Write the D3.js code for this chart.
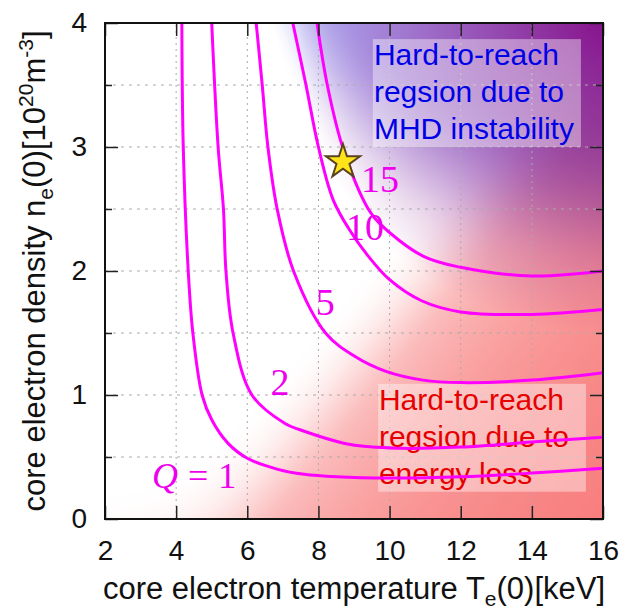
<!DOCTYPE html>
<html>
<head>
<meta charset="utf-8">
<script src="https://cdn.jsdelivr.net/npm/d3@7"></script>
<style>
  body { margin: 0; background: #fff; }
  svg { display: block; }
</style>
</head>
<body>
<svg id="chart"></svg>
<script>
// Q contours: [Te(0) keV, ne(0) 1e20 m^-3]
const q1 = [[4.16,4],[4.2,3],[4.34,2],[4.47,1.5],[4.73,1.0],[5.0,0.8],[5.46,0.61],[6.0,0.49],[6.86,0.40],[7.6,0.36],[8.5,0.34],[10,0.33],[12,0.34],[14,0.37],[16,0.41]];
const q2 = [[5.0,4],[5.18,3],[5.33,2.5],[5.4,2],[5.6,1.5],[6.13,1.0],[7.06,0.77],[7.48,0.72],[8.9,0.6],[10.3,0.57],[12,0.58],[14,0.62],[16,0.66]];
const q5 = [[6.25,4],[6.42,3.5],[6.58,3],[6.84,2.5],[7.3,2.0],[8.2,1.5],[9.03,1.31],[9.9,1.19],[10.94,1.12],[12,1.10],[14,1.12],[16,1.18]];
const q10 = [[7.28,4],[7.65,3.5],[8.0,3.0],[8.42,2.57],[8.9,2.32],[9.4,2.12],[10,1.93],[10.9,1.76],[12,1.67],[14,1.65],[16,1.69]];
const q15 = [[7.96,4],[8.25,3.5],[8.68,3.0],[9.4,2.5],[9.73,2.38],[10.94,2.12],[12,2.03],[14,1.96],[16,2.0]];

const qValues = [1, 2, 5, 10, 15];
const qCurves = [q1, q2, q5, q10, q15];
// where each contour label sits (T, n of the baseline)
const qLabelPos = [[3.32,0.25],[6.92,1.0],[8.19,1.645],[9.31,2.25],[9.73,2.637]];

const starPoint = [8.69, 2.88];

const xTicks = [2, 4, 6, 8, 10, 12, 14, 16];
const yTicks = [0, 1, 2, 3, 4];
const yMinor = [0.5, 1.5, 2.5, 3.5];
const xGrid = [4, 6, 8, 10, 12, 14];
const yGrid = [0.5, 1, 1.5, 2, 2.5, 3, 3.5];

const mhdText = ["Hard-to-reach", "regsion due to", "MHD instability"];
const lossText = ["Hard-to-reach", "regsion due to", "energy loss"];

const width = 625;
const height = 609;
const margin = ({ top: 23, right: 22, bottom: 90, left: 105 });

const x = d3.scaleLinear()
  .domain([2, 16])
  .range([margin.left, width - margin.right]);

const y = d3.scaleLinear()
  .domain([0, 4])
  .range([height - margin.bottom, margin.top]);

const svg = d3.select("#chart")
  .attr("width", width)
  .attr("height", height)
  .attr("viewBox", [0, 0, width, height]);

const pw = x(16) - x(2), ph = y(0) - y(4);

svg.append("defs").append("clipPath").attr("id", "plot")
  .append("rect")
  .attr("x", x(2)).attr("y", y(4))
  .attr("width", pw).attr("height", ph);

// background shading: red = energy loss, blue/purple = MHD limit
const smooth = t => t * t * (3 - 2 * t);
function shade(T, n) {
  const nb = 0.3 + 0.36 * Math.log1p(Math.exp(T - 4.3));
  const dr = Math.max(0, nb - n);
  const r = (1 - Math.exp(-dr / 1.8)) * smooth(Math.min(1, dr / 1.3));
  let R = 255 - r * 8, G = 255 - r * 140, B = 255 - r * 140;
  const nbb = T > 4.05 ? 1.35 + 6.9 / (T - 4) : 99;
  const db = Math.max(0, n - nbb);
  const b = smooth(Math.min(1, db / 1.3));
  R *= 1 - b * (1 - 175 / 255);
  G *= 1 - b * (1 - 175 / 255);
  B *= 1 - b * (1 - 245 / 255);
  const p = Math.max(0, 1 - Math.hypot(x(T) - x(16), y(n) - y(4)) / 310);
  R = R * (1 - p) + 135 * p;
  G = G * (1 - p) + 20 * p;
  B = B * (1 - p) + 140 * p;
  return [R, G, B];
}

const cv = document.createElement("canvas");
cv.width = Math.round(pw); cv.height = Math.round(ph);
const ctx = cv.getContext("2d");
const img = ctx.createImageData(cv.width, cv.height);
for (let j = 0; j < cv.height; j++) {
  for (let i = 0; i < cv.width; i++) {
    const c = shade(x.invert(x(2) + i + 0.5), y.invert(y(4) + j + 0.5));
    const k = (j * cv.width + i) * 4;
    img.data[k] = c[0]; img.data[k + 1] = c[1]; img.data[k + 2] = c[2]; img.data[k + 3] = 255;
  }
}
ctx.putImageData(img, 0, 0);

svg.append("image")
  .attr("x", x(2)).attr("y", y(4))
  .attr("width", pw).attr("height", ph)
  .attr("preserveAspectRatio", "none")
  .attr("href", cv.toDataURL());

// grid
svg.append("g")
  .selectAll("line")
  .data(yGrid)
  .join("line")
  .attr("x1", x(2)).attr("x2", x(16))
  .attr("y1", d => y(d)).attr("y2", d => y(d))
  .attr("stroke", "#aaa").attr("stroke-width", 1)
  .attr("stroke-dasharray", "3,5");

svg.append("g")
  .selectAll("line")
  .data(xGrid)
  .join("line")
  .attr("x1", d => x(d)).attr("x2", d => x(d))
  .attr("y1", y(0)).attr("y2", y(4))
  .attr("stroke", "#aaa").attr("stroke-width", 1)
  .attr("stroke-dasharray", "2,4");

// text boxes
function note(lines, color, tx, nTop, boxT0, boxT1, boxN0, boxN1) {
  svg.append("rect")
    .attr("x", x(boxT0)).attr("y", y(boxN1))
    .attr("width", x(boxT1) - x(boxT0)).attr("height", y(boxN0) - y(boxN1))
    .attr("fill", "#fff").attr("fill-opacity", 0.4);
  svg.append("g")
    .selectAll("text")
    .data(lines)
    .join("text")
    .attr("x", x(tx))
    .attr("y", (d, i) => y(nTop) + i * 37)
    .attr("font-family", "Liberation Sans, Arial, sans-serif")
    .attr("font-size", 30)
    .attr("fill", color)
    .text(d => d);
}
note(mhdText, "#0000e6", 9.56, 3.66, 9.53, 15.38, 3.0, 3.87);
note(lossText, "#e60000", 9.7, 0.883, 9.68, 15.52, 0.22, 1.09);

// contours
const line = d3.line()
  .x(d => x(d[0]))
  .y(d => y(d[1]))
  .curve(d3.curveCatmullRom.alpha(0.5));

svg.append("g")
  .attr("clip-path", "url(#plot)")
  .selectAll("path")
  .data(qCurves)
  .join("path")
  .attr("d", line)
  .attr("fill", "none")
  .attr("stroke", "#f0f")
  .attr("stroke-width", 3);

// contour labels
const labels = svg.append("g")
  .attr("font-family", "Liberation Serif, Times New Roman, serif")
  .attr("fill", "#ee00ee");

qValues.forEach((q, i) => {
  const t = labels.append("text")
    .attr("x", x(qLabelPos[i][0]))
    .attr("y", y(qLabelPos[i][1]));
  if (q === 1) {
    t.attr("font-size", 36).attr("text-anchor", "start");
    t.append("tspan").attr("font-style", "italic").text("Q");
    t.append("tspan").attr("dx", 10).text("=");
    t.append("tspan").attr("dx", 10).text(q);
  } else {
    t.attr("font-size", 38).attr("text-anchor", "middle").text(q);
  }
});

// star marker
svg.append("path")
  .attr("transform", `translate(${x(starPoint[0])},${y(starPoint[1])})`)
  .attr("d", d3.symbol(d3.symbolStar, 360)())
  .attr("fill", "#ffe419")
  .attr("stroke", "#5a4320")
  .attr("stroke-width", 2);

// axes, ticks pointing inward as in the original
const tickFont = "Liberation Sans, Arial, sans-serif";

const xAxis = g => g
  .attr("transform", `translate(0,${y(0)})`)
  .call(d3.axisBottom(x).tickValues(xTicks).tickSize(-13).tickPadding(21))
  .call(g => g.select(".domain").remove());

const xAxisTop = g => g
  .attr("transform", `translate(0,${y(4)})`)
  .call(d3.axisTop(x).tickValues(xTicks).tickSize(-13).tickFormat(""))
  .call(g => g.select(".domain").remove());

const yAxis = g => g
  .attr("transform", `translate(${x(2)},0)`)
  .call(d3.axisLeft(y).tickValues(yTicks).tickSize(-13).tickPadding(18).tickFormat(d3.format("d")))
  .call(g => g.select(".domain").remove());

const yAxisRight = g => g
  .attr("transform", `translate(${x(16)},0)`)
  .call(d3.axisRight(y).tickValues(yTicks).tickSize(-13).tickFormat(""))
  .call(g => g.select(".domain").remove());

const yMinorLeft = g => g
  .attr("transform", `translate(${x(2)},0)`)
  .call(d3.axisLeft(y).tickValues(yMinor).tickSize(-7).tickFormat(""))
  .call(g => g.select(".domain").remove());

const yMinorRight = g => g
  .attr("transform", `translate(${x(16)},0)`)
  .call(d3.axisRight(y).tickValues(yMinor).tickSize(-7).tickFormat(""))
  .call(g => g.select(".domain").remove());

[xAxis, xAxisTop, yAxis, yAxisRight, yMinorLeft, yMinorRight].forEach(a => {
  svg.append("g").call(a)
    .call(g => g.selectAll("line").attr("stroke", "#222").attr("stroke-width", 1.5))
    .call(g => g.selectAll("text")
      .attr("font-family", tickFont)
      .attr("font-size", 28)
      .attr("fill", "#111"));
});

svg.append("rect")
  .attr("x", x(2)).attr("y", y(4))
  .attr("width", pw).attr("height", ph)
  .attr("fill", "none")
  .attr("stroke", "#111")
  .attr("stroke-width", 2);

// axis titles
const xTitle = svg.append("text")
  .attr("x", (x(2) + x(16)) / 2)
  .attr("y", 599)
  .attr("text-anchor", "middle")
  .attr("font-family", tickFont)
  .attr("font-size", 31)
  .attr("fill", "#111")
  .text("core electron temperature T");
xTitle.append("tspan").attr("font-size", 21).attr("dy", 7).text("e");
xTitle.append("tspan").attr("dy", -7).text("(0)[keV]");

const yTitle = svg.append("text")
  .attr("transform", `translate(45,${(y(0) + y(4)) / 2}) rotate(-90)`)
  .attr("text-anchor", "middle")
  .attr("font-family", tickFont)
  .attr("font-size", 31)
  .attr("fill", "#111")
  .text("core electron density n");
yTitle.append("tspan").attr("font-size", 21).attr("dy", 8).text("e");
yTitle.append("tspan").attr("dy", -8).text("(0)[10");
yTitle.append("tspan").attr("font-size", 21).attr("dy", -12).text("20");
yTitle.append("tspan").attr("dy", 12).text("m");
yTitle.append("tspan").attr("font-size", 21).attr("dy", -12).text("-3");
yTitle.append("tspan").attr("dy", 12).text("]");
</script>
</body>
</html>
